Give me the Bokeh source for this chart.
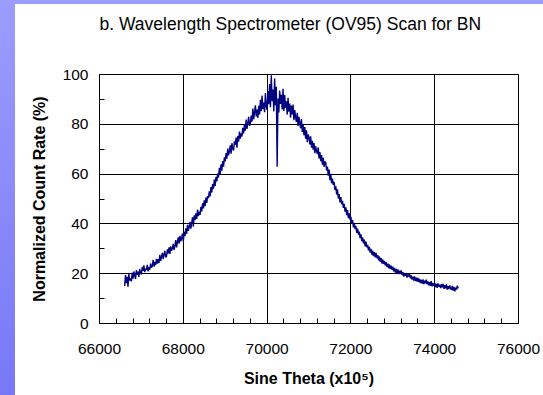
import numpy as np
from bokeh.plotting import figure
from bokeh.models import FixedTicker
from bokeh.core.properties import value
from bokeh.layouts import column
from bokeh.embed import file_html
from bokeh.resources import INLINE

# ---- data ----
scan_start = 66600      # first sine-theta position of the scan
scan_step = 20          # spacing between scan positions
count_rate = [
    15.0, 19.5, 16.2, 18.8, 14.8, 19.9, 17.3, 18.1, 16.9, 20.4,
    18.0, 20.9, 19.2, 17.9, 21.4, 19.6, 20.8, 18.7, 21.9, 20.1,
    19.8, 22.7, 21.1, 23.4, 20.6, 22.0, 21.5, 23.6, 20.9, 22.6,
    21.6, 24.1, 22.4, 23.0, 25.6, 22.8, 24.7, 23.5, 26.0, 24.0,
    25.9, 24.3, 27.6, 25.1, 26.8, 28.4, 25.9, 27.7, 29.2, 26.6,
    27.0, 29.8, 28.1, 30.6, 27.9, 31.0, 29.2, 30.1, 32.0, 29.6,
    31.2, 33.5, 30.6, 32.8, 34.6, 32.1, 35.2, 33.0, 34.4, 36.1,
    33.0, 36.8, 35.1, 38.2, 36.0, 39.6, 37.2, 38.7, 40.8, 38.1,
    40.3, 42.6, 38.9, 43.4, 41.5, 44.2, 42.0, 45.7, 43.1, 44.9,
    43.6, 46.9, 45.0, 48.3, 46.2, 49.5, 47.1, 50.6, 48.4, 51.2,
    50.3, 53.1, 51.0, 54.8, 52.6, 56.0, 54.1, 57.8, 55.2, 58.9,
    57.1, 60.2, 58.6, 62.5, 60.0, 63.9, 61.4, 65.2, 63.0, 66.7,
    65.1, 68.4, 66.2, 70.3, 67.5, 69.0, 71.6, 68.2, 72.4, 70.1,
    69.5, 73.2, 71.8, 74.7, 70.6, 75.3, 73.0, 77.1, 74.2, 76.4,
    75.1, 78.6, 76.3, 80.1, 77.4, 81.9, 78.2, 80.6, 83.0, 79.4,
    80.2, 83.5, 81.1, 86.3, 82.0, 84.8, 87.6, 83.2, 85.9, 82.6,
    87.4, 84.0, 89.8, 85.3, 91.5, 86.1, 88.7, 84.9, 92.6, 87.0,
    85.8, 93.4, 88.1, 96.2, 86.9, 99.7, 89.3, 94.0, 85.2, 98.4,
    87.6, 95.1, 63.0, 90.4, 84.7, 93.6, 88.2, 91.9, 86.0, 94.3,
    85.4, 91.8, 86.6, 89.2, 83.9, 90.6, 85.1, 88.3, 82.7, 87.5,
    84.0, 87.9, 81.6, 85.7, 82.8, 80.9, 84.6, 79.3, 83.0, 80.5,
    78.4, 82.1, 76.9, 79.8, 75.6, 78.9, 74.2, 77.6, 72.8, 75.9,
    74.8, 71.9, 75.2, 70.6, 73.4, 69.8, 72.5, 68.4, 71.1, 69.3,
    68.0, 70.7, 66.3, 68.9, 65.2, 67.6, 63.8, 66.5, 62.9, 65.1,
    64.6, 61.5, 63.0, 59.4, 61.8, 57.6, 60.1, 56.3, 58.2, 55.7,
    56.9, 53.6, 55.1, 51.8, 53.9, 50.2, 52.0, 48.6, 50.8, 47.9,
    49.3, 46.4, 48.1, 44.9, 46.7, 43.5, 45.6, 42.3, 44.2, 41.6,
    42.8, 40.1, 41.5, 38.6, 40.4, 37.9, 39.2, 36.4, 38.1, 35.7,
    36.9, 34.3, 35.8, 33.1, 34.6, 32.2, 33.7, 31.0, 32.9, 30.6,
    31.6, 29.4, 30.8, 28.5, 30.0, 27.6, 29.3, 27.1, 28.7, 26.6,
    28.4, 26.2, 27.5, 25.4, 26.9, 24.8, 26.3, 24.1, 25.7, 23.9,
    25.1, 23.3, 24.6, 22.7, 24.0, 22.2, 23.7, 21.9, 23.2, 21.6,
    22.8, 20.9, 22.3, 20.4, 21.9, 20.1, 21.7, 19.8, 21.2, 20.0,
    21.3, 19.5, 20.6, 18.8, 20.3, 19.2, 20.0, 18.4, 19.7, 18.9,
    19.9, 18.1, 19.3, 17.6, 18.8, 17.2, 18.9, 17.0, 18.4, 16.8,
    18.3, 16.6, 17.9, 16.2, 17.5, 16.0, 17.7, 15.8, 17.2, 16.1,
    17.6, 15.7, 16.9, 15.3, 16.6, 15.1, 17.0, 14.9, 16.2, 15.0,
    16.4, 14.6, 15.9, 14.3, 16.1, 14.8, 15.6, 14.2, 15.8, 14.5,
    15.9, 13.9, 15.4, 14.1, 15.7, 13.6, 15.0, 13.8, 15.3, 14.0,
    13.5, 15.1, 13.2, 14.7, 12.9, 14.4, 13.6, 15.2, 14.1,
]
x_ticks = [66000, 68000, 70000, 72000, 74000, 76000]
x_minor_ticks = [66400, 66800, 67200, 67600, 68400, 68800, 69200, 69600,
                 70400, 70800, 71200, 71600, 72400, 72800, 73200, 73600,
                 74400, 74800, 75200, 75600]
y_ticks = [0, 20, 40, 60, 80, 100]
y_minor_ticks = [10, 30, 50, 70, 90]
chart_title = "b. Wavelength Spectrometer (OV95) Scan for BN"

sine_theta = scan_start + scan_step * np.arange(len(count_rate))

FONT = "Liberation Sans"
X_RANGE = (66000, 76000)

# ---- title strip (its own small figure; its frame lines up with the chart's) ----
TH = 50
t = figure(width=528, height=TH, x_range=X_RANGE, y_range=(TH, 0),
           x_axis_type=None, y_axis_type=None,
           output_backend="svg", toolbar_location=None,
           min_border=0, min_border_left=84, min_border_right=25,
           min_border_top=0, min_border_bottom=0,
           background_fill_color="white", border_fill_color="white",
           styles={"background-color": "white"})
t.outline_line_color = None
t.margin = (4, 0, 0, 15)
t.text(x=[X_RANGE[0]], y=[19.5], text=[chart_title],
       text_font=value(FONT), text_font_size="17.5px",
       text_align="left", text_baseline="alphabetic", text_color="black")

# ---- main chart ----
p = figure(width=528, height=341,
           x_range=X_RANGE, y_range=(0, 100),
           output_backend="svg", toolbar_location=None,
           min_border_left=84, min_border_right=25,
           min_border_top=20, min_border_bottom=72,
           background_fill_color="white", border_fill_color="white",
           styles={"background-color": "white"})
p.margin = (0, 0, 0, 15)

p.line(sine_theta, count_rate, line_color="#000080", line_width=1.4)

p.outline_line_color = "black"
p.outline_line_alpha = 1
p.outline_line_width = 1

for ax in (p.xaxis[0], p.yaxis[0]):
    ax.axis_line_color = "black"
    ax.major_tick_line_color = "black"
    ax.minor_tick_line_color = "black"
    ax.major_tick_in = 5
    ax.major_tick_out = 0
    ax.minor_tick_in = 5
    ax.minor_tick_out = 0
    ax.major_label_text_font = FONT
    ax.major_label_text_font_size = "15.5px"
    ax.major_label_text_color = "black"
    ax.axis_label_text_font = FONT
    ax.axis_label_text_font_size = "16px"
    ax.axis_label_text_font_style = "bold"
    ax.axis_label_text_color = "black"

p.xaxis.ticker = FixedTicker(ticks=x_ticks, minor_ticks=x_minor_ticks)
p.yaxis.ticker = FixedTicker(ticks=y_ticks, minor_ticks=y_minor_ticks)
p.xaxis.axis_label = "Sine Theta (x10\u2075)"
p.yaxis.axis_label = "Normalized Count Rate (%)"
p.xaxis.major_label_standoff = 20
p.xaxis.axis_label_standoff = 13
p.yaxis.major_label_standoff = 11
p.yaxis.axis_label_standoff = 12

p.xgrid.grid_line_color = "black"
p.ygrid.grid_line_color = "black"
p.xgrid.grid_line_width = 1
p.ygrid.grid_line_width = 1

layout = column(t, p, width=543, height=395, spacing=0,
                styles={"background": "linear-gradient(#9c9cff, #7878f6)"})

open("out.html", "w").write(file_html(layout, INLINE))
